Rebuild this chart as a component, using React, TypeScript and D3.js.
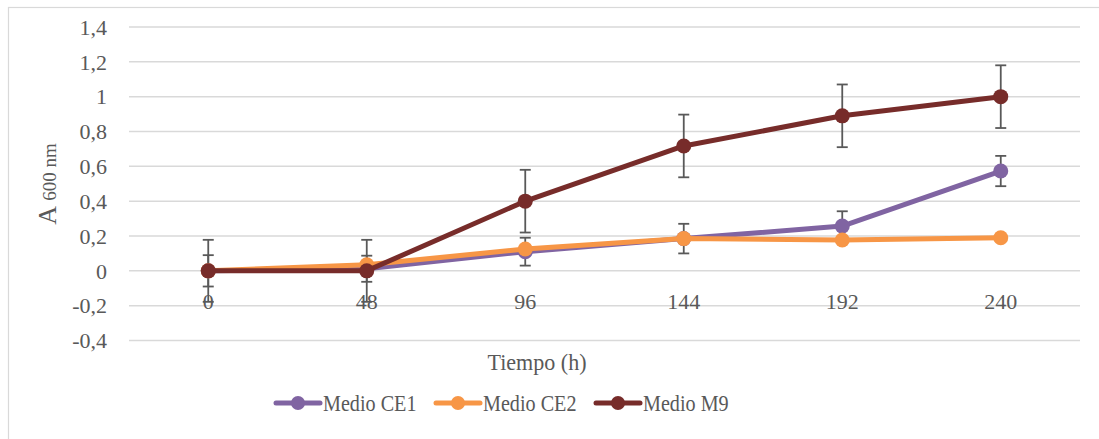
import { useEffect, useRef } from 'react';
import * as d3 from 'd3';

const hours = ['0', '48', '96', '144', '192', '240'];
const ce1 = [0, 0.012, 0.11, 0.185, 0.257, 0.573];
const ce1Err = [0.09, 0.075, 0.08, 0.085, 0.085, 0.087];
const ce2 = [0, 0.035, 0.125, 0.185, 0.177, 0.19];
const ce2Err = [0.015, 0.015, 0.015, 0.015, 0.015, 0.015];
const m9 = [0, 0, 0.4, 0.717, 0.89, 1.0];
const m9Err = [0.178, 0.178, 0.18, 0.18, 0.18, 0.18];
const yTicks = [-0.4, -0.2, 0, 0.2, 0.4, 0.6, 0.8, 1, 1.2, 1.4];

const series = [
  { name: 'Medio CE1', values: ce1, err: ce1Err, color: '#8064A2' },
  { name: 'Medio CE2', values: ce2, err: ce2Err, color: '#F79646' },
  { name: 'Medio M9', values: m9, err: m9Err, color: '#772C2A' },
];

const App = () => {
  const svgRef = useRef<SVGSVGElement>(null);

  useEffect(() => {
    document.body.style.margin = '0';
    const svg = d3.select(svgRef.current);
    svg.selectAll('*').remove();

    const font = "'Liberation Serif', serif";
    const textColor = '#595959';

    const x = d3.scalePoint<string>().domain(hours).range([129, 1080]).padding(0.5);
    const y = d3.scaleLinear().domain([-0.4, 1.4]).range([340.5, 27]);

    // chart frame
    svg.append('rect')
      .attr('x', 8.5).attr('y', 7.5)
      .attr('width', 1110).attr('height', 450)
      .attr('fill', 'white')
      .attr('stroke', '#D9D9D9')
      .attr('stroke-width', 1.2);

    // gridlines
    svg.append('g')
      .selectAll('line')
      .data(yTicks)
      .enter()
      .append('line')
      .attr('x1', 129).attr('x2', 1080)
      .attr('y1', d => y(d)).attr('y2', d => y(d))
      .attr('stroke', '#D9D9D9')
      .attr('stroke-width', 1.5);

    // y tick labels (comma decimal, plain hyphen minus)
    svg.append('g')
      .selectAll('text')
      .data(yTicks)
      .enter()
      .append('text')
      .attr('x', 107)
      .attr('y', d => y(d))
      .attr('dy', '0.35em')
      .attr('text-anchor', 'end')
      .style('font-family', font)
      .style('font-size', '22px')
      .attr('fill', textColor)
      .text(d => String(Math.round(d * 10) / 10).replace('.', ','));

    // x tick labels
    svg.append('g')
      .selectAll('text')
      .data(hours)
      .enter()
      .append('text')
      .attr('x', d => x(d)!)
      .attr('y', 308.5)
      .attr('text-anchor', 'middle')
      .style('font-family', font)
      .style('font-size', '22px')
      .attr('fill', textColor)
      .text(d => d);

    // error bars
    const eg = svg.append('g').attr('stroke', '#595959').attr('stroke-width', 1.8);
    series.forEach(s => {
      s.values.forEach((v, i) => {
        const cx = x(hours[i])!;
        const top = y(v + s.err[i]);
        const bot = y(v - s.err[i]);
        eg.append('line').attr('x1', cx).attr('x2', cx).attr('y1', top).attr('y2', bot);
        eg.append('line').attr('x1', cx - 5.5).attr('x2', cx + 5.5).attr('y1', top).attr('y2', top);
        eg.append('line').attr('x1', cx - 5.5).attr('x2', cx + 5.5).attr('y1', bot).attr('y2', bot);
      });
    });

    // lines and markers
    const line = d3.line<number>()
      .x((_, i) => x(hours[i])!)
      .y(d => y(d));

    series.forEach(s => {
      svg.append('path')
        .datum(s.values)
        .attr('d', line)
        .attr('fill', 'none')
        .attr('stroke', s.color)
        .attr('stroke-width', 5)
        .attr('stroke-linejoin', 'round')
        .attr('stroke-linecap', 'round');
      svg.append('g')
        .selectAll('circle')
        .data(s.values)
        .enter()
        .append('circle')
        .attr('cx', (_, i) => x(hours[i])!)
        .attr('cy', d => y(d))
        .attr('r', 7.5)
        .attr('fill', s.color);
    });

    // axis titles
    svg.append('text')
      .attr('transform', 'translate(537,370) scale(0.92,1)')
      .attr('text-anchor', 'middle')
      .style('font-family', font)
      .style('font-size', '24px')
      .attr('fill', textColor)
      .text('Tiempo (h)');

    const yt = svg.append('text')
      .attr('transform', 'translate(56,184) rotate(-90)')
      .attr('text-anchor', 'middle')
      .style('font-family', font)
      .attr('fill', textColor);
    yt.append('tspan').style('font-size', '26px').text('A ');
    yt.append('tspan').style('font-size', '19px').text('600 nm');

    // legend
    const legendX = [276, 436, 596];
    series.forEach((s, i) => {
      const lg = svg.append('g').attr('transform', `translate(${legendX[i]},403)`);
      lg.append('line')
        .attr('x1', 0).attr('x2', 44)
        .attr('stroke', s.color)
        .attr('stroke-width', 5)
        .attr('stroke-linecap', 'round');
      lg.append('circle').attr('cx', 22).attr('r', 7).attr('fill', s.color);
      lg.append('text')
        .attr('transform', 'translate(47,0) scale(0.84,1)')
        .attr('dy', '0.35em')
        .style('font-family', font)
        .style('font-size', '24px')
        .attr('fill', textColor)
        .text(s.name);
    });
  }, []);

  return <svg ref={svgRef} width={1099} height={439} style={{ display: 'block' }} />;
};

export default App;
